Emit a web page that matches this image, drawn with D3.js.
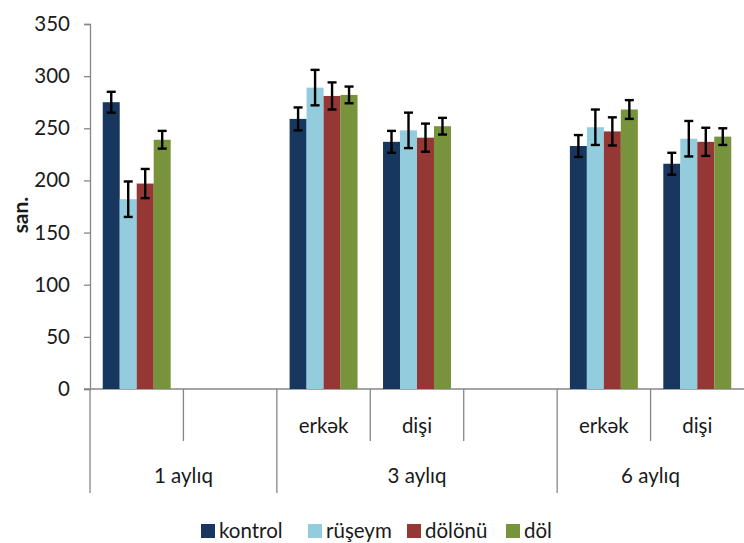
<!DOCTYPE html>
<html>
<head>
<meta charset="utf-8">
<script src="https://cdn.jsdelivr.net/npm/d3@7/dist/d3.min.js"></script>
<style>
  html, body { margin: 0; padding: 0; background: #fff; }
  svg { display: block; font-family: Lato, "Open Sans", sans-serif; }
</style>
</head>
<body>
<svg id="chart" width="744" height="543"></svg>
<script>
// Category slots along the x axis (empty strings are blank slots)
const slotLabels = ["", "", "erkək", "dişi", "", "erkək", "dişi"];
const groupLabels = ["1 aylıq", "3 aylıq", "6 aylıq"];
const groupSpans = [2, 3, 2];

const seriesNames = ["kontrol", "rüşeym", "dölönü", "döl"];
const seriesColors = ["#17375E", "#93CDDD", "#953735", "#77933C"];

// Means per slot (null = no bar) and error half-widths
const kontrol    = [275, null, 259, 237, null, 233, 216];
const kontrolErr = [10,  null, 11,  10.5, null, 10.5, 10.5];
const rusheym    = [182, null, 289, 248, null, 251, 240];
const rusheymErr = [17,  null, 17,  17,  null, 17,  17];
const dolonu     = [197, null, 281, 241, null, 247, 237];
const dolonuErr  = [14,  null, 13,  13.5, null, 13.5, 13.5];
const dol        = [239, null, 282, 252, null, 268, 242];
const dolErr     = [8.5, null, 8,   8,   null, 9,   8];

const yTicks = [0, 50, 100, 150, 200, 250, 300, 350];

const values = [kontrol, rusheym, dolonu, dol];
const errors = [kontrolErr, rusheymErr, dolonuErr, dolErr];

const svg = d3.select("#chart");
const plotLeft = 90, plotRight = 744, plotTop = 24, plotBottom = 389;

const x = d3.scaleBand().domain(d3.range(slotLabels.length)).range([plotLeft, plotRight]).padding(0);
const xs = d3.scaleBand().domain(d3.range(seriesNames.length)).range([0, x.bandwidth()])
  .paddingInner(0).paddingOuter(0.75);
const y = d3.scaleLinear().domain([0, 350]).range([plotBottom, plotTop]);

const axisColor = "#868686";
const textColor = "#1a1a1a";

// Y axis
const yAxis = svg.append("g").attr("transform", `translate(${plotLeft},0)`)
  .call(d3.axisLeft(y).tickValues(yTicks).tickSize(6).tickPadding(14));
yAxis.select(".domain").attr("stroke", axisColor).attr("stroke-width", 1.3);
yAxis.selectAll(".tick line").attr("stroke", axisColor).attr("stroke-width", 1.3);
yAxis.selectAll(".tick text").attr("font-size", 20.5).attr("fill", textColor)
  .attr("font-family", "Lato, sans-serif");

// X axis baseline
svg.append("line").attr("x1", plotLeft - 6).attr("x2", plotRight).attr("y1", plotBottom).attr("y2", plotBottom)
  .attr("stroke", axisColor).attr("stroke-width", 1.3);

// Slot separators (short) and group separators (long)
const groupStarts = [0];
groupSpans.forEach((s, i) => groupStarts.push(groupStarts[i] + s));
svg.append("g").selectAll("line").data(d3.range(slotLabels.length)).join("line")
  .attr("x1", i => x(i)).attr("x2", i => x(i))
  .attr("y1", plotBottom)
  .attr("y2", i => groupStarts.includes(i) ? 493 : 441)
  .attr("stroke", axisColor).attr("stroke-width", 1.3);

// Slot labels
svg.append("g").selectAll("text").data(slotLabels).join("text")
  .attr("x", (d, i) => x(i) + x.bandwidth() / 2)
  .attr("y", 433)
  .attr("text-anchor", "middle")
  .attr("font-size", 20.5).attr("fill", textColor)
  .text(d => d);

// Group labels
svg.append("g").selectAll("text").data(groupLabels).join("text")
  .attr("x", (d, i) => (x(groupStarts[i]) + (groupStarts[i + 1] < slotLabels.length ? x(groupStarts[i + 1]) : plotRight)) / 2)
  .attr("y", 483)
  .attr("text-anchor", "middle")
  .attr("font-size", 20.5).attr("fill", textColor)
  .text(d => d);

// Bars
const barData = [];
values.forEach((arr, si) => arr.forEach((v, ci) => {
  if (v !== null) barData.push({ si, ci, v, e: errors[si][ci] });
}));

svg.append("g").selectAll("rect").data(barData).join("rect")
  .attr("x", d => x(d.ci) + xs(d.si))
  .attr("width", xs.bandwidth())
  .attr("y", d => y(d.v))
  .attr("height", d => y(0) - y(d.v))
  .attr("fill", d => seriesColors[d.si]);

// Error bars
const eb = svg.append("g").attr("stroke", "#000").attr("stroke-width", 2.4);
barData.forEach(d => {
  const cx = x(d.ci) + xs(d.si) + xs.bandwidth() / 2;
  eb.append("line").attr("x1", cx).attr("x2", cx).attr("y1", y(d.v + d.e)).attr("y2", y(d.v - d.e));
  eb.append("line").attr("x1", cx - 4.5).attr("x2", cx + 4.5).attr("y1", y(d.v + d.e)).attr("y2", y(d.v + d.e));
  eb.append("line").attr("x1", cx - 4.5).attr("x2", cx + 4.5).attr("y1", y(d.v - d.e)).attr("y2", y(d.v - d.e));
});

// Y axis title
svg.append("text")
  .attr("transform", "translate(28,215) rotate(-90)")
  .attr("text-anchor", "middle")
  .attr("font-size", 21).attr("font-weight", "bold").attr("fill", textColor)
  .text("san.");

// Legend
const legendX = [201, 308, 407, 506];
const lg = svg.append("g").selectAll("g").data(seriesNames).join("g")
  .attr("transform", (d, i) => `translate(${legendX[i]},524)`);
lg.append("rect").attr("width", 14).attr("height", 14).attr("fill", (d, i) => seriesColors[i]);
lg.append("text").attr("x", 18).attr("y", 13.5).attr("font-size", 20.5).attr("fill", textColor).text(d => d);
</script>
</body>
</html>
